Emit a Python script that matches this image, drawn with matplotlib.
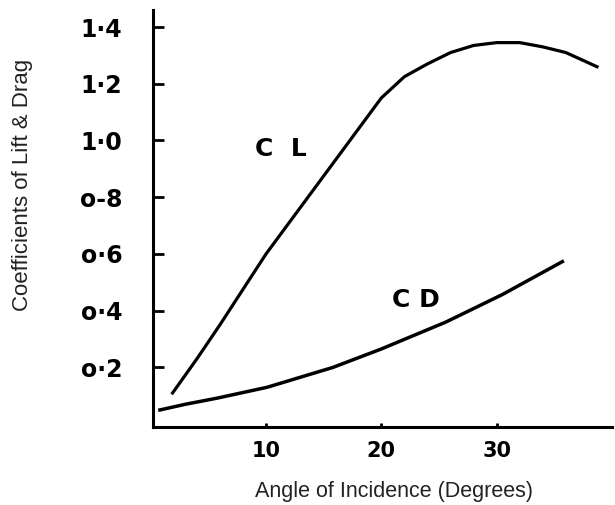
import matplotlib
matplotlib.use("Agg")
import matplotlib.pyplot as plt

cl_angle = [1.9, 4, 6, 8, 10, 12, 14, 16, 18, 20, 22, 24, 26, 28, 30, 32, 34, 36, 38.7]
cl_values = [0.11, 0.23, 0.35, 0.475, 0.60, 0.71, 0.82, 0.93, 1.04, 1.15, 1.225, 1.27, 1.31, 1.335, 1.345, 1.345, 1.33, 1.31, 1.26]

cd_angle = [0.8, 3, 5.8, 10.1, 15.8, 20, 25.6, 30.5, 35.7]
cd_values = [0.05, 0.07, 0.092, 0.13, 0.20, 0.265, 0.36, 0.457, 0.573]

y_ticks = [0.2, 0.4, 0.6, 0.8, 1.0, 1.2, 1.4]
y_labels = ["o·2", "o·4", "o·6", "o-8", "1·0", "1·2", "1·4"]
x_ticks = [10, 20, 30]
x_labels = ["10", "20", "30"]

fig = plt.figure(figsize=(6.15, 5.05), dpi=100)
ax = fig.add_axes([0.2488, 0.1545, 0.7463, 0.8257])

ax.plot(cl_angle, cl_values, color="black", lw=2.3)
ax.plot(cd_angle, cd_values, color="black", lw=2.5)

ax.set_xlim(0.2, 40)
ax.set_ylim(-0.01, 1.46)

for s in ["top", "right"]:
    ax.spines[s].set_visible(False)
for s in ["left", "bottom"]:
    ax.spines[s].set_linewidth(2.2)

ax.set_yticks(y_ticks)
ax.set_yticklabels(y_labels, fontsize=17, fontweight="bold")
ax.set_xticks(x_ticks)
ax.set_xticklabels(x_labels, fontsize=15, fontweight="bold")
ax.tick_params(axis="y", direction="in", length=8, width=2, pad=22)
ax.tick_params(axis="x", direction="in", length=3, width=2, pad=10)

fig.text(23 / 615, 1 - 185 / 505, "Coefficients of Lift & Drag", rotation=90,
         ha="center", va="center", fontsize=16, color="#222222",
         family="Liberation Sans")
fig.text(394 / 615, 1 - 492 / 505, "Angle of Incidence (Degrees)",
         ha="center", va="center", fontsize=15.5, color="#222222",
         family="Liberation Sans")

ax.text(11.3, 0.97, "C  L", fontsize=18, fontweight="bold", ha="center", va="center")
ax.text(23.0, 0.438, "C D", fontsize=18, fontweight="bold", ha="center", va="center")

fig.savefig("out.png", dpi=100)
